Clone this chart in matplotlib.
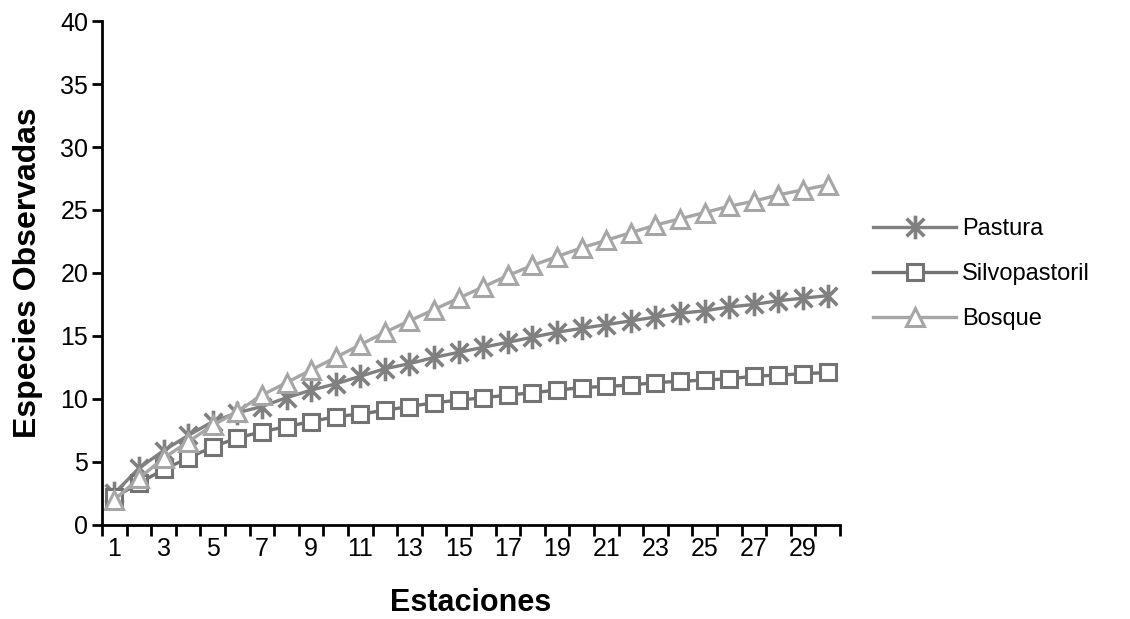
import matplotlib.pyplot as plt
from matplotlib.path import Path

plt.rcParams['font.family'] = ['Liberation Sans', 'DejaVu Sans']

estaciones = list(range(1, 31))

pastura = [2.5, 4.5, 5.9, 7.1, 8.2, 8.9, 9.4, 10.1, 10.7, 11.2,
           11.8, 12.4, 12.8, 13.3, 13.7, 14.1, 14.5, 14.9, 15.3, 15.6,
           15.9, 16.2, 16.5, 16.8, 17.0, 17.3, 17.5, 17.8, 18.0, 18.2]
silvopastoril = [2.2, 3.3, 4.4, 5.3, 6.2, 6.9, 7.4, 7.8, 8.2, 8.6,
                 8.8, 9.1, 9.4, 9.7, 9.9, 10.1, 10.3, 10.5, 10.7, 10.9,
                 11.0, 11.1, 11.3, 11.4, 11.5, 11.6, 11.8, 11.9, 12.0, 12.1]
bosque = [2.0, 3.7, 5.3, 6.6, 7.9, 9.0, 10.3, 11.3, 12.3, 13.3,
          14.3, 15.3, 16.2, 17.1, 18.0, 18.9, 19.8, 20.6, 21.3, 22.0,
          22.6, 23.2, 23.8, 24.3, 24.8, 25.3, 25.7, 26.2, 26.6, 27.0]

y_ticks = [0, 5, 10, 15, 20, 25, 30, 35, 40]
x_labels = [str(i) for i in range(1, 30, 2)]

# asterisk like the Excel one: vertical bar plus an X
star = Path([(0, -1), (0, 1), (-0.75, -0.75), (0.75, 0.75), (-0.75, 0.75), (0.75, -0.75)],
            [Path.MOVETO, Path.LINETO, Path.MOVETO, Path.LINETO, Path.MOVETO, Path.LINETO])

fig = plt.figure(figsize=(11.3, 6.19), dpi=100)
ax = fig.add_axes([0.0903, 0.152, 0.653, 0.814])

ax.plot(estaciones, pastura, color='#808080', lw=2.4, marker=star, ms=17,
        mew=2.6, mec='#808080', label='Pastura')
ax.plot(estaciones, silvopastoril, color='#737373', lw=2.4, marker='s', ms=12,
        mew=2.2, mfc='white', mec='#737373', label='Silvopastoril')
ax.plot(estaciones, bosque, color='#a6a6a6', lw=2.4, marker='^', ms=13,
        mew=2.2, mfc='white', mec='#a6a6a6', label='Bosque')

ax.set_xlim(0.5, 30.5)
ax.set_ylim(0, 40)
ax.set_yticks(y_ticks)
ax.set_xticks([i + 0.5 for i in range(0, 31)])
ax.set_xticklabels([])
ax.set_xticks(list(range(1, 30, 2)), minor=True)
ax.set_xticklabels(x_labels, minor=True)
ax.tick_params(axis='x', which='major', direction='out', length=8, width=2)
ax.tick_params(axis='x', which='minor', length=0, labelsize=18, pad=9)
ax.tick_params(axis='y', direction='out', length=7, width=2, labelsize=18, pad=3)

for s in ['top', 'right']:
    ax.spines[s].set_visible(False)
for s in ['left', 'bottom']:
    ax.spines[s].set_linewidth(2)

ax.set_ylabel('Especies Observadas', fontsize=23, fontweight='bold', labelpad=12)
ax.set_xlabel('Estaciones', fontsize=22, fontweight='bold', labelpad=19)

fig.legend(loc='center left', bbox_to_anchor=(0.754, 0.557), frameon=False,
           fontsize=17, handlelength=3.5, labelspacing=0.98, handletextpad=0.25)

fig.savefig('out.png', dpi=100)
